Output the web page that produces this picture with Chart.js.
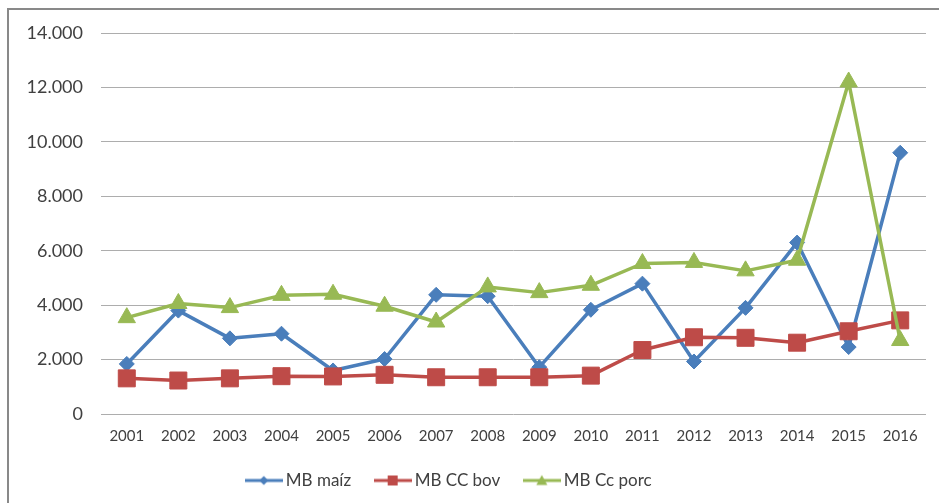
<!DOCTYPE html>
<html>
<head>
<meta charset="utf-8">
<script src="https://cdn.jsdelivr.net/npm/chart.js@4/dist/chart.umd.min.js"></script>
<style>
  html, body { margin: 0; padding: 0; background: #ffffff; }
  #wrap { position: relative; width: 939px; height: 503px; }
</style>
</head>
<body>
<div id="wrap"><canvas id="c" width="939" height="503"></canvas></div>
<script>
// Years on the category axis
const years = ['2001','2002','2003','2004','2005','2006','2007','2008',
               '2009','2010','2011','2012','2013','2014','2015','2016'];

// Series values
const mbMaiz   = [1840, 3800, 2780, 2950, 1600, 2020, 4380, 4330,
                  1720, 3830, 4790, 1930, 3900, 6300, 2460, 9600];
const mbCcBov  = [1310, 1230, 1310, 1390, 1380, 1440, 1350, 1350,
                  1350, 1410, 2350, 2820, 2800, 2620, 3040, 3440];
const mbCcPorc = [3540, 4060, 3910, 4360, 4400, 3960, 3380, 4670,
                  4460, 4730, 5530, 5570, 5260, 5650, 12200, 2700];

// Y axis range
const yMin = 0, yMax = 14000, yStep = 2000;

const seriesNames = ['MB maíz', 'MB CC bov', 'MB Cc porc'];
const BLUE = '#4A7EBB', RED = '#BE4B48', GREEN = '#98B954';
const TEXT = '#404040';

function fmtThousands(v) {
  const s = String(Math.round(v));
  return s.replace(/\B(?=(\d{3})+(?!\d))/g, '.');
}

// Legend symbol: a short line segment with the series marker in the middle
function legendIcon(color, shape) {
  const cv = document.createElement('canvas');
  cv.width = 38; cv.height = 16;
  const g = cv.getContext('2d');
  g.strokeStyle = color; g.fillStyle = color; g.lineWidth = 3;
  g.beginPath(); g.moveTo(0, 8); g.lineTo(38, 8); g.stroke();
  g.beginPath();
  if (shape === 'diamond') {
    g.moveTo(19, 3.5); g.lineTo(23.5, 8); g.lineTo(19, 12.5); g.lineTo(14.5, 8);
  } else if (shape === 'square') {
    g.rect(14, 3, 10, 10);
  } else {
    g.moveTo(19, 2.5); g.lineTo(24.5, 12.5); g.lineTo(13.5, 12.5);
  }
  g.closePath(); g.fill();
  return cv;
}
const icons = [legendIcon(BLUE, 'diamond'), legendIcon(RED, 'square'), legendIcon(GREEN, 'triangle')];

// Outer frame (left and top edges)
const framePlugin = {
  id: 'frame',
  beforeDraw(chart) {
    const ctx = chart.ctx;
    ctx.save();
    ctx.fillStyle = '#898989';
    ctx.fillRect(7, 8, chart.width - 7, 2);
    ctx.fillRect(7, 8, 2, chart.height - 8);
    ctx.restore();
  }
};

// Nudge the legend row a little to the left of the canvas centre
const legendShift = {
  id: 'legendShift',
  afterLayout(chart) {
    const lg = chart.legend;
    if (lg) { lg.left -= 18; lg.right -= 18; }
  }
};

new Chart(document.getElementById('c'), {
  type: 'line',
  data: {
    labels: years,
    datasets: [
      {
        label: seriesNames[0], data: mbMaiz, order: 3,
        borderColor: BLUE, backgroundColor: BLUE, borderWidth: 3.5,
        pointStyle: 'rectRot', pointRadius: 7.5, pointBorderWidth: 1,
        pointBackgroundColor: BLUE, pointBorderColor: BLUE,
        borderJoinStyle: 'round', tension: 0, fill: false
      },
      {
        label: seriesNames[1], data: mbCcBov, order: 2,
        borderColor: RED, backgroundColor: RED, borderWidth: 3.5,
        pointStyle: 'rect', pointRadius: 12, pointBorderWidth: 1,
        pointBackgroundColor: RED, pointBorderColor: RED,
        borderJoinStyle: 'round', tension: 0, fill: false
      },
      {
        label: seriesNames[2], data: mbCcPorc, order: 1,
        borderColor: GREEN, backgroundColor: GREEN, borderWidth: 3.5,
        pointStyle: 'triangle', pointRadius: 10, pointBorderWidth: 1,
        pointBackgroundColor: GREEN, pointBorderColor: GREEN,
        borderJoinStyle: 'round', tension: 0, fill: false
      }
    ]
  },
  options: {
    responsive: false,
    animation: false,
    layout: { padding: { left: 10, right: 11, top: 33, bottom: 4 } },
    scales: {
      x: {
        type: 'category',
        offset: true,
        afterFit(scale) { scale.height = 30; },
        grid: { display: false, drawTicks: false },
        border: { display: false },
        ticks: {
          color: TEXT, padding: 13, maxRotation: 0, autoSkip: false,
          font: { family: 'Lato', size: 15 }
        }
      },
      y: {
        min: yMin, max: yMax,
        afterFit(scale) { scale.width = 91; },
        grid: { color: '#ADADAD', lineWidth: 1, drawTicks: false },
        border: { display: false },
        ticks: {
          stepSize: yStep, color: TEXT, padding: 18,
          font: { family: 'Lato', size: 18 },
          callback: (v) => fmtThousands(v)
        }
      }
    },
    plugins: {
      tooltip: { enabled: false },
      legend: {
        position: 'bottom',
        maxHeight: 60,
        labels: {
          usePointStyle: true,
          pointStyleWidth: 27,
          padding: 28,
          color: TEXT,
          font: { family: 'Lato', size: 17 },
          generateLabels(chart) {
            return chart.data.datasets.map((ds, i) => ({
              text: ds.label,
              fillStyle: ds.borderColor,
              strokeStyle: ds.borderColor,
              fontColor: TEXT,
              lineWidth: 0,
              pointStyle: icons[i],
              hidden: false,
              datasetIndex: i
            }));
          }
        }
      }
    }
  },
  plugins: [framePlugin, legendShift]
});
</script>
</body>
</html>
